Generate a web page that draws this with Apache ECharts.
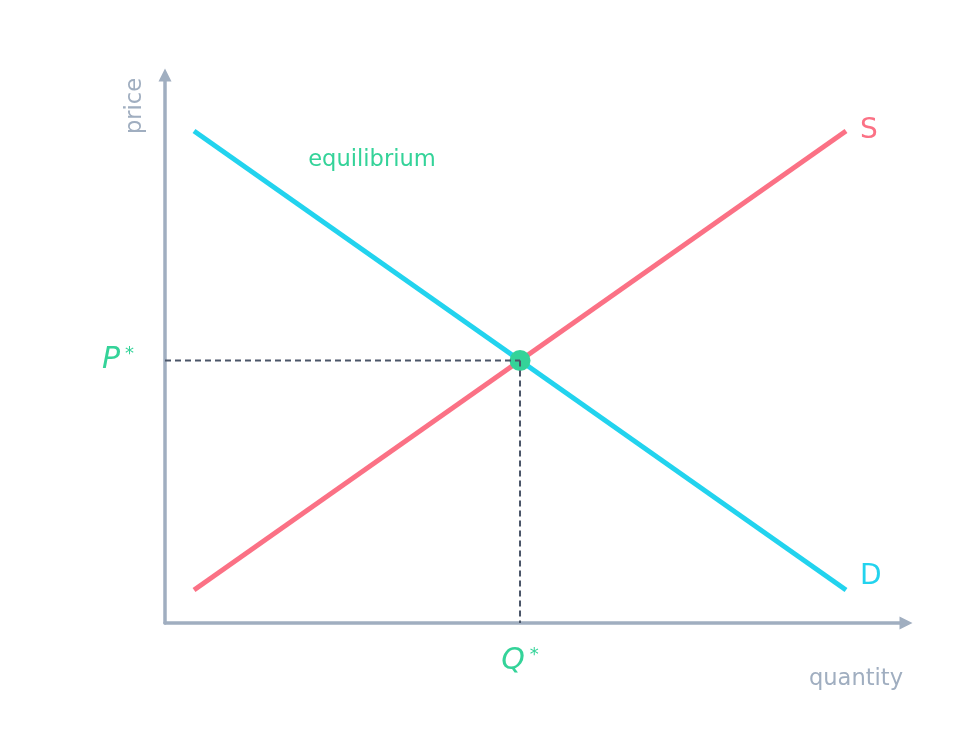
<!DOCTYPE html>
<html>
<head>
<meta charset="utf-8">
<script src="https://cdn.jsdelivr.net/npm/echarts@6/dist/echarts.min.js"></script>
<style>
html,body{margin:0;padding:0;background:#fff;}
#chart{width:966px;height:756px;}
</style>
</head>
<body>
<div id="chart"></div>
<script>
// ---- data ----
const supplyQ = [1, 9];
const supplyP = [1, 9];
const demandQ = [1, 9];
const demandP = [9, 1];
const eqQ = 5;
const eqP = 5;
const qRange = [0.644, 9.736];
const pRange = [0.425, 9.976];
const curveNames = ['S', 'D'];
const axisNames = ['quantity', 'price'];
const eqLabel = 'equilibrium';
const starLabels = ['P', 'Q'];

const RED = '#fb7185', CYAN = '#22d3ee', GREEN = '#34d399', GREY = '#a0aec0', DARK = '#4a5568';
const FONT = 'DejaVu Sans';
const TXT = '22.6px "DejaVu Sans"';

const zip = (a, b) => a.map((v, i) => [v, b[i]]);

const axisCommon = {
  type: 'value',
  axisLine: { show: true, symbol: ['none', 'triangle'], symbolSize: [13, 13], lineStyle: { color: GREY, width: 3.5 } },
  axisTick: { show: false },
  axisLabel: { show: false },
  splitLine: { show: false }
};

const starRich = {
  v: { fontFamily: FONT, fontStyle: 'italic', fontSize: 30, color: GREEN, opacity: 1 },
  s: { fontFamily: FONT, fontSize: 18, color: GREEN, verticalAlign: 'top', padding: [0, 0, 0, 5], opacity: 1 }
};

const chart = echarts.init(document.getElementById('chart'));
chart.setOption({
  animation: false,
  grid: { left: 165, right: 60, top: 75, bottom: 133 },
  xAxis: Object.assign({}, axisCommon, { min: qRange[0], max: qRange[1] }),
  yAxis: Object.assign({}, axisCommon, { min: pRange[0], max: pRange[1] }),
  series: [
    {
      name: curveNames[0], type: 'line', data: zip(supplyQ, supplyP), showSymbol: false, z: 2,
      lineStyle: { color: RED, width: 5 },
      endLabel: { show: true, formatter: curveNames[0], color: RED, fontSize: 28, fontFamily: FONT, distance: 14, offset: [0, 0] }
    },
    {
      name: curveNames[1], type: 'line', data: zip(demandQ, demandP), showSymbol: false, z: 3,
      lineStyle: { color: CYAN, width: 5 },
      endLabel: { show: true, formatter: curveNames[1], color: CYAN, fontSize: 28, fontFamily: FONT, distance: 14, offset: [0, -13] }
    },
    {
      type: 'scatter', data: [[eqQ, eqP]], symbolSize: 21, z: 4,
      itemStyle: { color: GREEN, opacity: 1 }
    },
    {
      type: 'line', data: [[qRange[0], eqP], [eqQ, eqP]], showSymbol: false, z: 5,
      lineStyle: { color: DARK, width: 2, type: [6, 4] }
    },
    {
      type: 'line', data: [[eqQ, eqP], [eqQ, pRange[0]]], showSymbol: false, z: 5,
      lineStyle: { color: DARK, width: 2, type: [6, 4] }
    },
    {
      type: 'scatter', data: [[qRange[0], eqP]], symbolSize: 0, z: 6, silent: true,
      itemStyle: { opacity: 1, color: GREEN },
      label: { show: true, position: 'left', distance: 31, opacity: 1, formatter: '{v|' + starLabels[0] + '}{s|*}', rich: starRich }
    },
    {
      type: 'scatter', data: [[eqQ, pRange[0]]], symbolSize: 0, z: 6, silent: true,
      itemStyle: { opacity: 1, color: GREEN },
      label: { show: true, position: 'bottom', distance: 23, opacity: 1, formatter: '{v|' + starLabels[1] + '}{s|*}', rich: starRich }
    }
  ],
  graphic: [
    { type: 'text', x: 372, y: 160, style: { text: eqLabel, fill: GREEN, font: TXT, textAlign: 'center', textVerticalAlign: 'middle' } },
    { type: 'text', x: 856, y: 679, style: { text: axisNames[0], fill: GREY, font: TXT, textAlign: 'center', textVerticalAlign: 'middle' } },
    { type: 'text', x: 135.5, y: 106, rotation: Math.PI / 2, style: { text: axisNames[1], fill: GREY, font: TXT, textAlign: 'center', textVerticalAlign: 'middle' } }
  ]
});
</script>
</body>
</html>
